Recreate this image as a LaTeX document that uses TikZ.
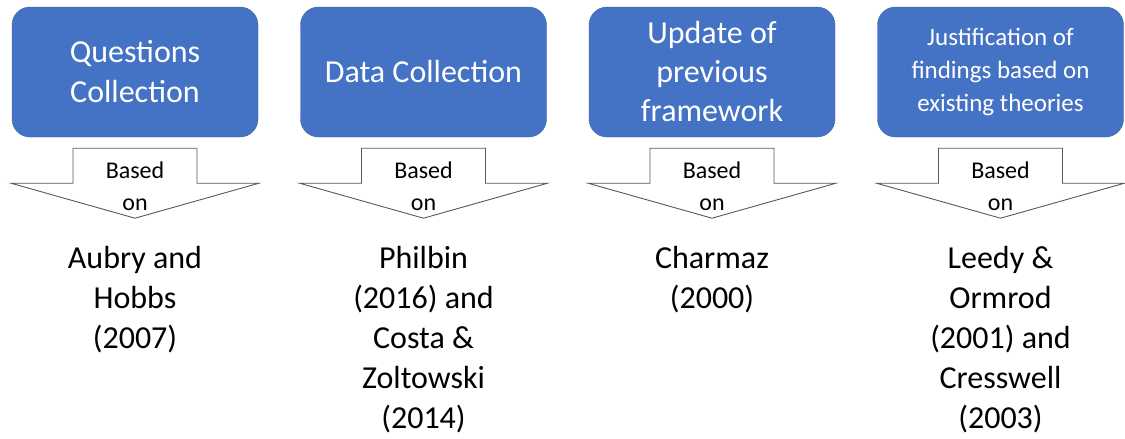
\documentclass[tikz,border=0pt]{standalone}
\usepackage{fontspec}
\setmainfont{Carlito}
\usetikzlibrary{positioning,calc}
\definecolor{boxblue}{HTML}{4472C4}
\def\colsep{288.5}
\def\boxwidth{246pt}
\def\boxheight{130pt}

\begin{document}
\begin{tikzpicture}[x=1pt,y=-1pt,
    line join=miter,
    arrowbody/.style={draw=black!65,line width=0.9pt,fill=white}]
    \tikzstyle{stage}=[rectangle,rounded corners=18pt,fill=boxblue,draw=boxblue!85!black,
        minimum width=\boxwidth,minimum height=\boxheight,text=white,align=center,inner sep=0pt]
    \tikzstyle{based}=[font=\fontsize{24}{32}\selectfont,align=center,inner sep=0pt]
    \tikzstyle{source}=[font=\fontsize{32}{40}\selectfont,align=center,inner sep=0pt,anchor=north]

    \useasboundingbox (0,0) rectangle (1125,439);

    % Draw the stage boxes
    \foreach \fnt/\txt [count=\i] in {
        {\fontsize{32}{40}}/{Questions\\Collection},
        {\fontsize{32}{40}}/{Data Collection},
        {\fontsize{32}{39}}/{Update of\\previous\\framework},
        {\fontsize{25}{33}}/{Justification of\\findings based on\\existing theories}}
        \node[stage,font=\fnt\selectfont] (S-\i) at ({135+\colsep*(\i-1)},72) {\txt};

    % Draw the down arrows under each box
    \foreach \i in {1,...,4}{
        \coordinate (A-\i) at ($(S-\i.south)+(0,11)$);
        \draw[arrowbody] ($(A-\i)+(-62,0)$) -- ($(A-\i)+(62,0)$) -- ($(A-\i)+(62,35)$)
            -- ($(A-\i)+(124,35)$) -- ($(A-\i)+(0,70)$) -- ($(A-\i)+(-124,35)$)
            -- ($(A-\i)+(-62,35)$) -- cycle;
        \node[based] (B-\i) at ($(A-\i)+(0,38.5)$) {Based\\on};
    }

    % Draw the sources below the arrows
    \foreach \txt [count=\i] in {
        {Aubry and\\Hobbs\\(2007)},
        {Philbin\\(2016) and\\Costa \&\\Zoltowski\\(2014)},
        {Charmaz\\(2000)},
        {Leedy \&\\Ormrod\\(2001) and\\Cresswell\\(2003)}}
        \node[source] (R-\i) at ($(A-\i)+(0,98)$) {\txt};
\end{tikzpicture}
\end{document}
